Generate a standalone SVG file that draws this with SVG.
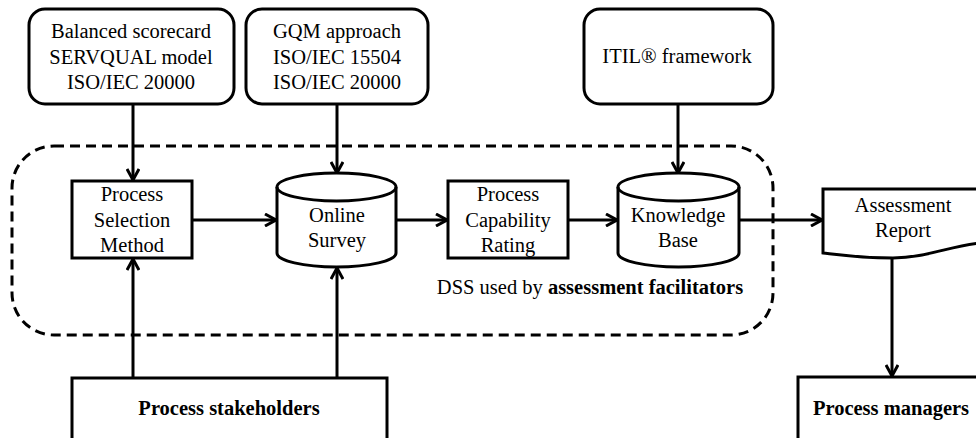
<svg xmlns="http://www.w3.org/2000/svg" width="976" height="438" viewBox="0 0 976 438">
<style>
.box{fill:#fff;stroke:#000;stroke-width:3}
.ln{fill:none;stroke:#000;stroke-width:3}
</style>
<defs>
<marker id="arr" viewBox="0 0 14 14" refX="13" refY="7" markerWidth="14" markerHeight="14" markerUnits="userSpaceOnUse" orient="auto">
<path d="M2,1 L13,7 L2,13" fill="none" stroke="#000" stroke-width="3"/>
</marker>
</defs>
<g font-family="Liberation Serif, Times New Roman, serif" font-size="20.5" text-anchor="middle" fill="#000">
<g id="dss-boundary">
<rect x="12" y="146" width="761" height="189" rx="42" ry="42" fill="none" stroke="#000" stroke-width="3" stroke-dasharray="10 6"/>
<text x="590" y="294" font-size="20.5">DSS used by <tspan font-weight="bold">assessment facilitators</tspan></text>
</g>
<g id="connectors">
<line class="ln" x1="133" y1="104" x2="133" y2="180" marker-end="url(#arr)"/>
<line class="ln" x1="337" y1="104" x2="337" y2="173" marker-end="url(#arr)"/>
<line class="ln" x1="678" y1="104" x2="678" y2="173" marker-end="url(#arr)"/>
<line class="ln" x1="192" y1="220" x2="276" y2="220" marker-end="url(#arr)"/>
<line class="ln" x1="396" y1="220" x2="447" y2="220" marker-end="url(#arr)"/>
<line class="ln" x1="568" y1="220" x2="617" y2="220" marker-end="url(#arr)"/>
<line class="ln" x1="739" y1="220" x2="822" y2="220" marker-end="url(#arr)"/>
<line class="ln" x1="133" y1="378" x2="133" y2="259" marker-end="url(#arr)"/>
<line class="ln" x1="337" y1="378" x2="337" y2="268" marker-end="url(#arr)"/>
<line class="ln" x1="892" y1="257" x2="892" y2="376" marker-end="url(#arr)"/>
</g>
<g id="src-balanced">
<rect class="box" x="29" y="9" width="205" height="95" rx="16"/>
<text x="131" y="38">Balanced scorecard</text>
<text x="131" y="64">SERVQUAL model</text>
<text x="131" y="89">ISO/IEC 20000</text>
</g>
<g id="src-gqm">
<rect class="box" x="246" y="9" width="182" height="95" rx="16"/>
<text x="337" y="38">GQM approach</text>
<text x="337" y="64">ISO/IEC 15504</text>
<text x="337" y="89">ISO/IEC 20000</text>
</g>
<g id="src-itil">
<rect class="box" x="584" y="9" width="189" height="95" rx="16"/>
<text x="677" y="63">ITIL® framework</text>
</g>
<g id="process-selection">
<rect class="box" x="72" y="181" width="120" height="77"/>
<text x="132" y="201">Process</text>
<text x="132" y="227">Selection</text>
<text x="132" y="252">Method</text>
</g>
<g id="online-survey">
<path class="box" d="M277,187 L277,253 A59.5,14 0 0 0 396,253 L396,187 A59.5,14 0 0 0 277,187 Z"/>
<path class="ln" d="M277,187 A59.5,14 0 0 0 396,187"/>
<text x="337" y="222">Online</text>
<text x="337" y="247">Survey</text>
</g>
<g id="capability-rating">
<rect class="box" x="448" y="181" width="120" height="77"/>
<text x="508" y="201">Process</text>
<text x="508" y="227">Capability</text>
<text x="508" y="252">Rating</text>
</g>
<g id="knowledge-base">
<path class="box" d="M618,187 L618,253 A60.5,14 0 0 0 739,253 L739,187 A60.5,14 0 0 0 618,187 Z"/>
<path class="ln" d="M618,187 A60.5,14 0 0 0 739,187"/>
<text x="678" y="222">Knowledge</text>
<text x="678" y="247">Base</text>
</g>
<g id="assessment-report">
<path class="box" d="M823,189 L980,189 L980,243 C950,246 925,258 893,258 C860,258 840,255 823,253 Z"/>
<text x="903" y="212">Assessment</text>
<text x="903" y="237">Report</text>
</g>
<g id="stakeholders">
<rect class="box" x="72" y="378" width="315" height="70"/>
<text font-weight="bold" x="229" y="415">Process stakeholders</text>
</g>
<g id="managers">
<rect class="box" x="798" y="377" width="190" height="70"/>
<text font-weight="bold" x="891" y="415">Process managers</text>
</g>
</g>
</svg>
